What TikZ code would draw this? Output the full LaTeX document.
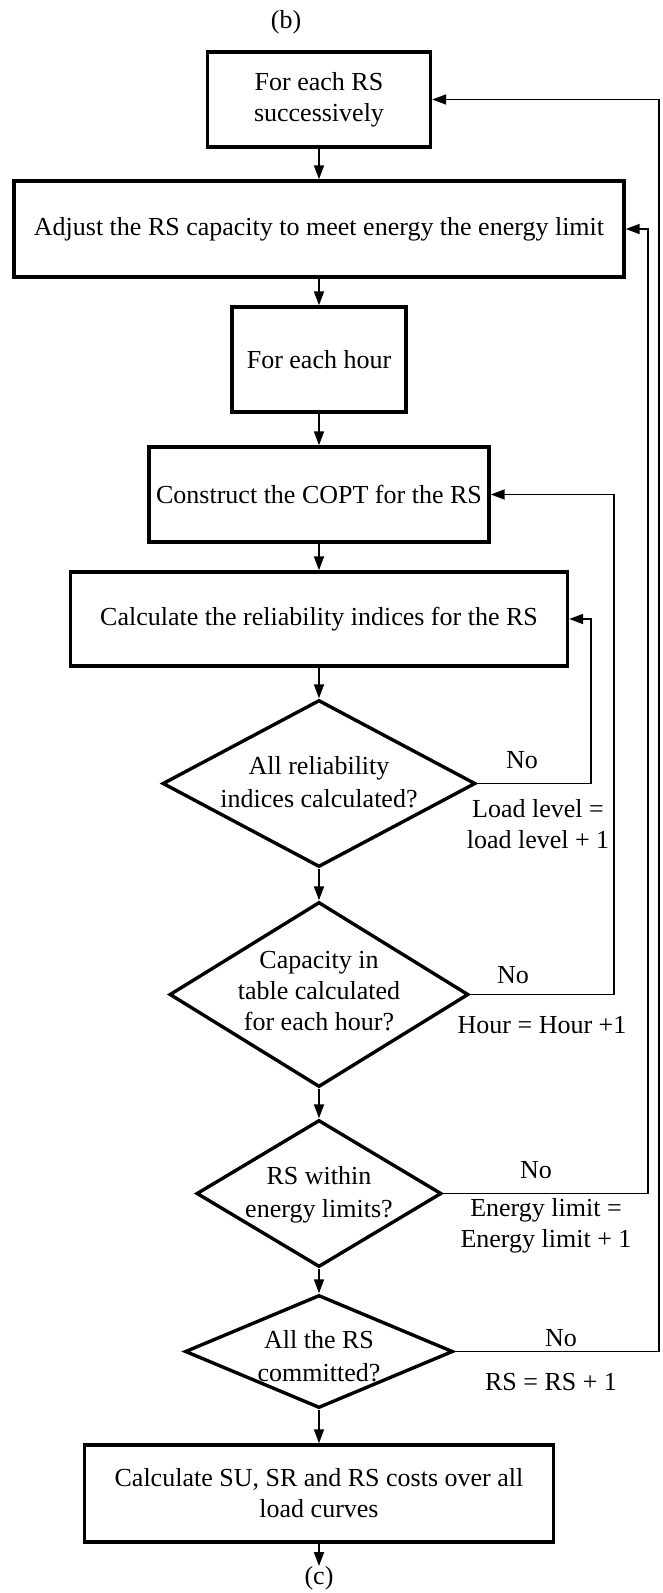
\documentclass[tikz,border=0pt]{standalone}
\usepackage{fontspec}
\setmainfont{Liberation Serif}
\usetikzlibrary{shapes.geometric,arrows.meta}
\begin{document}
\begin{tikzpicture}[x=1pt,y=-1pt,
  every node/.style={font=\fontsize{26}{31}\selectfont},
  box/.style={draw, line width=3.4pt, rectangle, align=center, inner sep=0pt},
  dia/.style={draw, line width=3.4pt, diamond, inner sep=0pt},
  conn/.style={line width=1.8pt, -{Triangle[length=14pt,width=10pt]}},
  lbl/.style={inner sep=0pt, align=center}]
\useasboundingbox (0,0) rectangle (662,1593);
% title
\node[lbl] (tb) at (286,22) {(b)};
% boxes
\node[box, minimum width=223pt, minimum height=95pt] (b1) at (319,99.5) {For each RS\\successively};
\node[box, minimum width=610pt, minimum height=96pt] (b2) at (319,229) {Adjust the RS capacity to meet energy the energy limit};
\node[box, minimum width=174pt, minimum height=105pt] (b3) at (319,359.5) {For each hour};
\node[box, minimum width=340pt, minimum height=95pt] (b4) at (319,494.5) {Construct the COPT for the RS};
\node[box, minimum width=497pt, minimum height=94pt] (b5) at (319,619) {Calculate the reliability indices for the RS};
% diamonds
\node[dia, minimum width=313pt, minimum height=167pt] (d1) at (319,783.5) {};
\node[lbl] (d1t) at (319,782) {All reliability\\[2pt]indices calculated?};
\node[dia, minimum width=299pt, minimum height=185pt] (d2) at (319,994.5) {};
\node[lbl] (d2t) at (319,991) {Capacity in\\table calculated\\for each hour?};
\node[dia, minimum width=245pt, minimum height=147pt] (d3) at (319,1193.5) {};
\node[lbl] (d3t) at (319,1195) {RS within\\[2pt]energy limits?};
\node[dia, minimum width=268pt, minimum height=113pt] (d4) at (319,1351.5) {};
\node[lbl] (d4t) at (319,1356) {All the RS\\[2pt]committed?};
\node[box, minimum width=469pt, minimum height=97pt] (b6) at (319,1493.5) {Calculate SU, SR and RS costs over all\\load curves};
\node[lbl] (tc) at (319,1578) {(c)};
% spine
\draw[conn] (b1.south) -- (b2.north);
\draw[conn] (b2.south) -- (b3.north);
\draw[conn] (b3.south) -- (b4.north);
\draw[conn] (b4.south) -- (b5.north);
\draw[conn] (b5.south) -- (d1.north);
\draw[conn] (d1.south) -- (d2.north);
\draw[conn] (d2.south) -- (d3.north);
\draw[conn] (d3.south) -- (d4.north);
\draw[conn] (d4.south) -- (b6.north);
\draw[conn] (b6.south) -- (tc.north);
% feedback rails
\coordinate (r1) at (591,0);
\coordinate (r2) at (614,0);
\coordinate (r3) at (648,0);
\coordinate (r4) at (659,0);
\draw[conn] (d1.east) -- (d1.east -| r1) |- (b5.east);
\draw[conn] (d2.east) -- (d2.east -| r2) |- (b4.east);
\draw[conn] (d3.east) -- (d3.east -| r3) |- (b2.east);
\draw[conn] (d4.east) -- (d4.east -| r4) |- (b1.east);
% labels
\node[lbl] (n1) at (522,760) {No};
\node[lbl] (l1) at (538,824) {Load level =\\load level + 1};
\node[lbl] (n2) at (513,975) {No};
\node[lbl] (l2) at (542,1025) {Hour = Hour +1};
\node[lbl] (n3) at (536,1170) {No};
\node[lbl] (l3) at (546,1226) {Energy limit =\\Energy limit + 1};
\node[lbl] (n4) at (561,1338) {No};
\node[lbl] (l4) at (551,1382) {RS = RS + 1};
\end{tikzpicture}
\end{document}
